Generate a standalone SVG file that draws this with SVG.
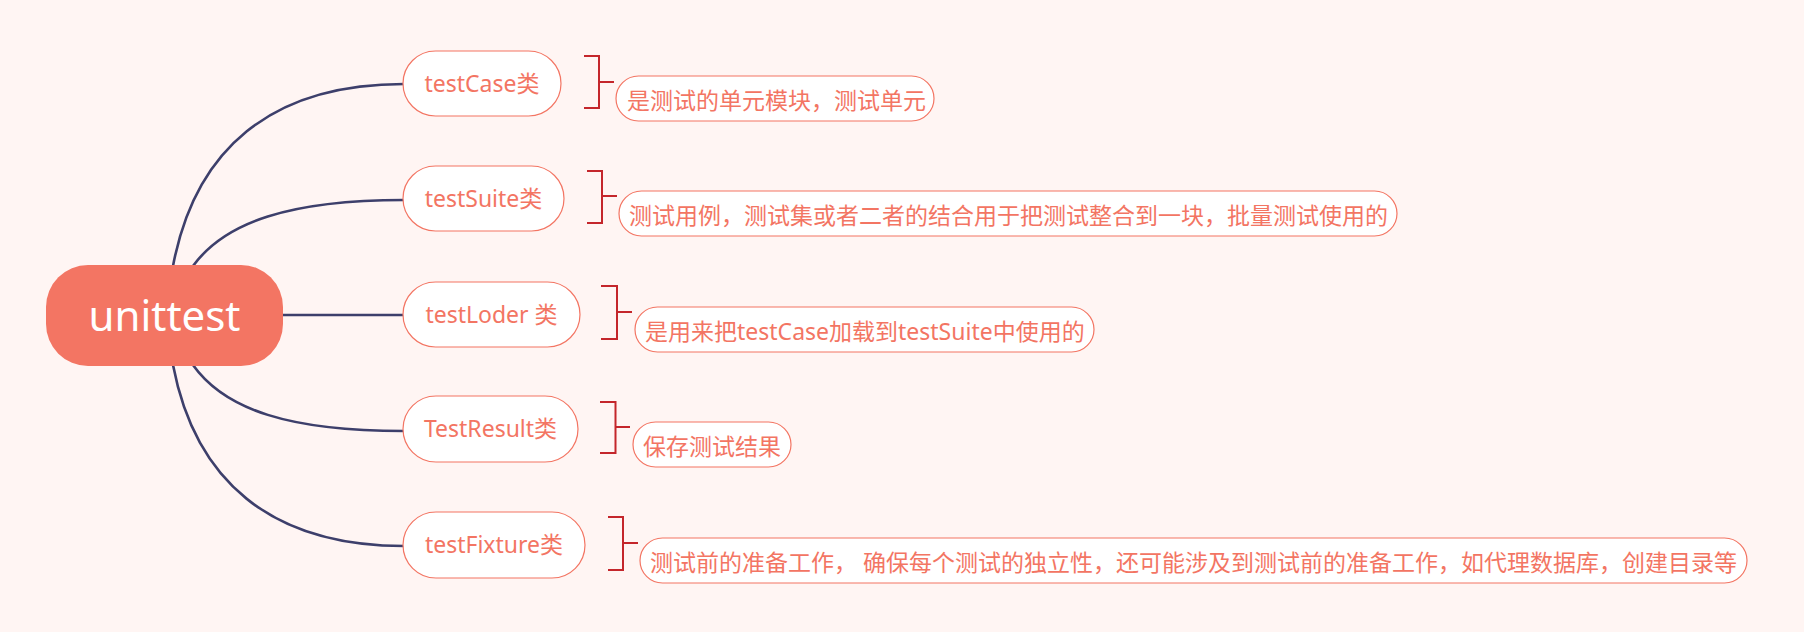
<svg xmlns="http://www.w3.org/2000/svg" width="1804" height="632" viewBox="0 0 1804 632">
<style>
.bg{fill:#FFF5F3}
.root{fill:#F37563}
.rootText{fill:#FFFFFF;font-family:"Noto Sans","Noto Sans CJK SC",sans-serif;font-size:42px;text-anchor:middle}
.node{fill:#FFFFFF;stroke:#F37563;stroke-width:1.2}
.nodeText{fill:#F37563;font-family:"Noto Sans","Noto Sans CJK SC",sans-serif;font-size:23px;text-anchor:middle}
.desc{fill:#FFFFFF;stroke:#F37563;stroke-width:1.2}
.descText{fill:#F37563;font-family:"Noto Sans","Noto Sans CJK SC",sans-serif;font-size:23px}
.conn{fill:none;stroke:#3D3F6B;stroke-width:2.6}
.brk{fill:none;stroke:#C4262B;stroke-width:2}
</style>
<rect class="bg" x="0" y="0" width="1804" height="632"/>
<g id="connectors">
<path class="conn" d="M173,266 C195,150 270,84 404,84"/>
<path class="conn" d="M193,266 C225,222 290,200 404,200"/>
<path class="conn" d="M283,315 L404,315"/>
<path class="conn" d="M193,365 C225,410 290,431 404,431"/>
<path class="conn" d="M173,365 C195,480 270,546 404,546"/>
</g>
<g id="root">
<rect class="root" x="46" y="265" width="237" height="101" rx="42"/>
<text class="rootText" x="164.5" y="331">unittest</text>
</g>
<g id="testCase">
<rect class="node" x="403" y="51" width="158" height="65" rx="32.5"/>
<text class="nodeText" x="482" y="91.5">testCase类</text>
</g>
<g id="testSuite">
<rect class="node" x="403" y="166" width="161" height="65" rx="32.5"/>
<text class="nodeText" x="483.5" y="206.5">testSuite类</text>
</g>
<g id="testLoder">
<rect class="node" x="403" y="282" width="177" height="65" rx="32.5"/>
<text class="nodeText" x="491.5" y="322.5">testLoder 类</text>
</g>
<g id="testResult">
<rect class="node" x="403" y="396" width="175" height="66" rx="33"/>
<text class="nodeText" x="490.5" y="437">TestResult类</text>
</g>
<g id="testFixture">
<rect class="node" x="403" y="512" width="182" height="66" rx="33"/>
<text class="nodeText" x="494" y="553">testFixture类</text>
</g>
<g id="brackets">
<path class="brk" d="M584,56 H599 V108 H584 M599,82 H614"/>
<path class="brk" d="M587,171 H602 V223 H587 M602,196 H617"/>
<path class="brk" d="M601,286 H617 V339 H601 M617,312 H632"/>
<path class="brk" d="M600,402 H615.5 V453 H600 M615.5,427 H630"/>
<path class="brk" d="M608,517 H623 V570 H608 M623,543 H638"/>
</g>
<g id="desc1">
<rect class="desc" x="616" y="76" width="318" height="45" rx="22.5"/>
<text class="descText" x="627" y="108.5">是测试的单元模块，测试单元</text>
</g>
<g id="desc2">
<rect class="desc" x="619" y="191" width="778" height="45" rx="22.5"/>
<text class="descText" x="629" y="223.5">测试用例，测试集或者二者的结合用于把测试整合到一块，批量测试使用的</text>
</g>
<g id="desc3">
<rect class="desc" x="635" y="307" width="459" height="45" rx="22.5"/>
<text class="descText" x="645" y="339.5">是用来把testCase加载到testSuite中使用的</text>
</g>
<g id="desc4">
<rect class="desc" x="633" y="422" width="158" height="45" rx="22.5"/>
<text class="descText" x="643" y="454.5">保存测试结果</text>
</g>
<g id="desc5">
<rect class="desc" x="640" y="538" width="1107" height="45" rx="22.5"/>
<text class="descText" x="650" y="570.5">测试前的准备工作， 确保每个测试的独立性，还可能涉及到测试前的准备工作，如代理数据库，创建目录等</text>
</g>
</svg>
